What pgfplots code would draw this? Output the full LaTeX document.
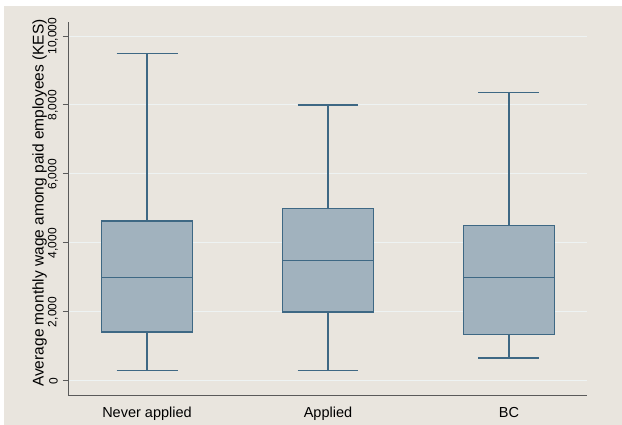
\documentclass[border=0pt]{standalone}
\usepackage{pgfplots}
\pgfplotsset{compat=1.18}
\usepackage{graphicx}
\usepackage{fontspec}
\setmainfont{Liberation Sans}
\definecolor{bg}{RGB}{233,229,222}
\definecolor{gridc}{RGB}{238,243,243}
\definecolor{boxfill}{RGB}{161,178,190}
\definecolor{boxedge}{RGB}{62,104,132}
\definecolor{axisc}{RGB}{90,90,90}
\begin{document}
\begin{tikzpicture}
\fill[white] (-69pt,-29pt) rectangle (553pt,396pt);
\fill[bg] (-65pt,-29pt) rectangle (553pt,390pt);
\useasboundingbox (-69pt,-29pt) rectangle (553pt,396pt);
\begin{axis}[at={(0pt,0pt)}, anchor=south west, scale only axis,
  width=518pt, height=374pt,
  xmin=0.569, xmax=3.431, ymin=-435, ymax=10406,
  axis x line*=bottom, axis y line*=left,
  axis line style={axisc, line width=1pt},
  xtick={1,2,3}, xticklabels={Never applied,Applied,BC},
  xtick style={draw=none},
  xticklabel style={anchor=base, font=\fontsize{14.5}{16}\selectfont},
  xticklabel shift=16pt,
  ytick={0,2000,4000,6000,8000,10000},
  scaled y ticks=false,
  yticklabel={\rotatebox{90}{\fontsize{12}{14}\selectfont\pgfmathprintnumber[assume math mode=true,1000 sep={,}]{\tick}}},
  yticklabel style={anchor=east, inner sep=0pt},
  ytick style={axisc, line width=1pt},
  major tick length=6pt, tick align=outside,
  yticklabel shift=5pt,
  ymajorgrids, y grid style={gridc, line width=1pt},
  ylabel={Average monthly wage among paid employees (KES)},
  ylabel style={at={(axis description cs:-0.0492,0.516)}, anchor=base, font=\fontsize{15.5}{17}\selectfont},
  clip=false,
  bx/.style={draw=boxedge, fill=boxfill, line width=1.2pt, solid, mark=none},
  wl/.style={draw=boxedge, line width=1.1pt, solid, mark=none},
]
% Never applied: lw 300, q1 1420, med 3000, q3 4640, uw 9500
\addplot[bx] coordinates {(0.75,1420) (1.25,1420) (1.25,4640) (0.75,4640)} -- cycle;
\addplot[wl] coordinates {(0.75,3000) (1.25,3000)};
\addplot[wl] coordinates {(1,4640) (1,9500)};
\addplot[wl] coordinates {(0.8315,9500) (1.1685,9500)};
\addplot[wl] coordinates {(1,1420) (1,300)};
\addplot[wl] coordinates {(0.8315,300) (1.1685,300)};
% Applied: 300, 2000, 3500, 5000, 8000
\addplot[bx] coordinates {(1.75,2000) (2.25,2000) (2.25,5000) (1.75,5000)} -- cycle;
\addplot[wl] coordinates {(1.75,3500) (2.25,3500)};
\addplot[wl] coordinates {(2,5000) (2,8000)};
\addplot[wl] coordinates {(1.8315,8000) (2.1685,8000)};
\addplot[wl] coordinates {(2,2000) (2,300)};
\addplot[wl] coordinates {(1.8315,300) (2.1685,300)};
% BC: 667, 1350, 3000, 4500, 8350
\addplot[bx] coordinates {(2.75,1350) (3.25,1350) (3.25,4500) (2.75,4500)} -- cycle;
\addplot[wl] coordinates {(2.75,3000) (3.25,3000)};
\addplot[wl] coordinates {(3,4500) (3,8350)};
\addplot[wl] coordinates {(2.8315,8350) (3.1685,8350)};
\addplot[wl] coordinates {(3,1350) (3,667)};
\addplot[wl] coordinates {(2.8315,667) (3.1685,667)};
\end{axis}
\end{tikzpicture}
\end{document}
